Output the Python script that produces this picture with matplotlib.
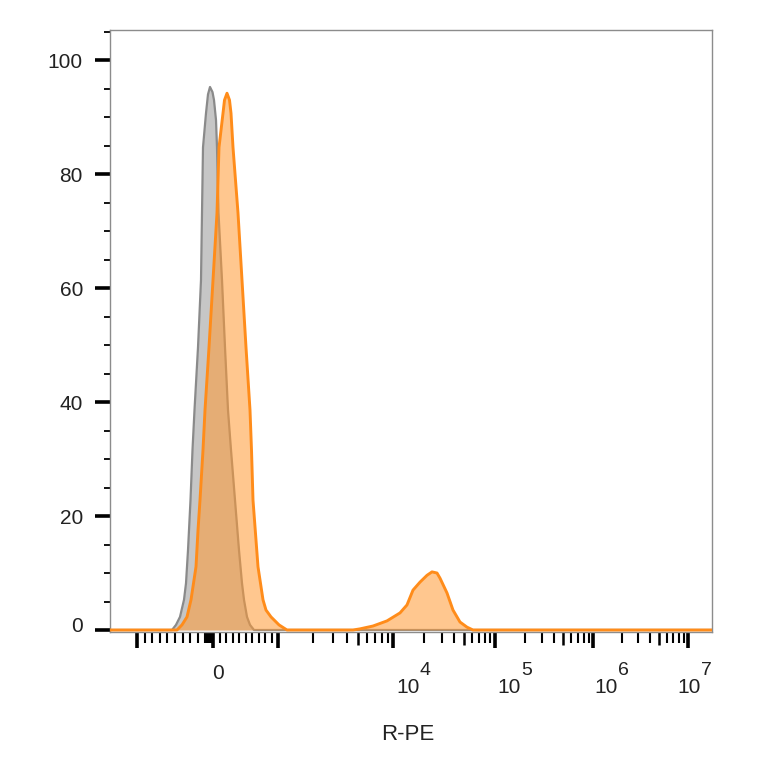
import numpy as np
import matplotlib
matplotlib.use("Agg")
import matplotlib.pyplot as plt
from matplotlib.ticker import MultipleLocator
from matplotlib.transforms import ScaledTranslation, blended_transform_factory

plt.rcParams['font.family'] = ['Liberation Sans', 'DejaVu Sans']

# ---- data (x in display channels, y in % of max) ----
GRAY_X = [0, 56, 62, 66, 70, 74, 76, 78, 80.5, 82.5, 84.5, 88, 91, 92, 93, 96, 98, 100,
          102.5, 104, 106, 107, 108.5, 112, 115, 118, 121, 125, 129, 132, 134, 137,
          140, 144, 150, 602]
GRAY_Y = [0, 0, 0, 0.9, 2.3, 5.3, 8.2, 14.0, 22.8, 31.6, 38.6, 49.6, 61.4, 73.2, 84.7,
          90.7, 94.0, 95.3, 94.4, 93.0, 89.5, 84.7, 73.2, 61.4, 49.6, 38.6, 31.6, 22.8,
          14.0, 8.2, 5.3, 2.3, 0.9, 0, 0, 0]

ORANGE_X = [0, 60, 67, 72, 77, 81, 86, 88, 90, 93, 95, 99, 103, 107, 109, 113, 114.5,
            117, 119.5, 121, 123, 128, 132, 136, 140, 141.5, 143, 148, 153, 156, 161,
            169, 177, 185, 243, 250, 263, 277, 290, 297, 303, 310, 317, 322, 327, 330,
            337, 343, 350, 357, 363, 602]
ORANGE_Y = [0, 0, 0, 0.9, 2.3, 5.3, 11.1, 17.5, 22.8, 31.6, 38.6, 49.6, 61.4, 73.2,
            84.7, 90.7, 93.0, 94.2, 93.0, 90.7, 84.7, 73.2, 61.4, 49.6, 38.6, 31.6,
            22.8, 11.1, 5.3, 3.5, 2.3, 0.9, 0, 0, 0, 0.2, 0.7, 1.6, 3.0, 4.4, 7.0, 8.4,
            9.6, 10.2, 10.0, 9.1, 6.5, 3.5, 1.4, 0.5, 0, 0]

# axis scale definition: decade anchors (value -> channel)
DEC_VALUES = [-1e3, 0, 1e3, 1e4, 1e5, 1e6, 1e7]
DEC_CHANNELS = [27, 103, 168, 283, 385, 483, 578]
X_LABEL_VALUES = [0, 1e4, 1e5, 1e6, 1e7]
X_LABEL_EXP = ['', '4', '5', '6', '7']
X_LABEL_CH = [108, 286, 387, 484, 567]
Y_TICKS = [0, 20, 40, 60, 80, 100]


def to_channel(v):
    if v >= 1e3:
        k = int(np.floor(np.log10(v) + 1e-9))
        i = DEC_VALUES.index(10.0 ** k)
        if i + 1 >= len(DEC_VALUES):
            return DEC_CHANNELS[i]
        return DEC_CHANNELS[i] + np.log10(v / 10.0 ** k) * (DEC_CHANNELS[i + 1] - DEC_CHANNELS[i])
    if v >= 0:
        return DEC_CHANNELS[1] + v / 1e3 * (DEC_CHANNELS[2] - DEC_CHANNELS[1])
    return DEC_CHANNELS[1] + v / 1e3 * (DEC_CHANNELS[1] - DEC_CHANNELS[0])


fig = plt.figure(figsize=(7.64, 7.64), dpi=100)
ax = fig.add_axes([110 / 764, 1 - 632 / 764, 602 / 764, 602 / 764])
ax.set_xlim(0, 602)
ax.set_ylim(-0.35, 105.3)

ax.fill_between(GRAY_X, GRAY_Y, 0, color='#c6c6c6', lw=0, zorder=1)
ax.plot(GRAY_X, GRAY_Y, color='#8a8a8a', lw=1.6, zorder=2,
        solid_joinstyle='round', solid_capstyle='round')
ax.fill_between(ORANGE_X, ORANGE_Y, 0, color='#ff9933', alpha=0.55, lw=0, zorder=3)
ax.plot(ORANGE_X, ORANGE_Y, color='#ff8c1a', lw=2.1, zorder=4,
        solid_joinstyle='round', solid_capstyle='round')

for s in ax.spines.values():
    s.set_color('#8c8c8c')
    s.set_linewidth(1.0)

# y ticks
ax.set_yticks(Y_TICKS)
ax.yaxis.set_minor_locator(MultipleLocator(5))
ax.tick_params(axis='y', which='major', direction='out', length=11, width=2.6,
               color='black', labelsize=15, pad=8.5, labelcolor='#222222')
ax.tick_params(axis='y', which='minor', direction='out', length=4.5, width=1.3,
               color='black')
fig.canvas.draw()
for lbl in ax.get_yticklabels():
    if lbl.get_text() in ('0', '−0'):
        lbl.set_transform(lbl.get_transform() + ScaledTranslation(0, 6 / 100, fig.dpi_scale_trans))

# x ticks
major_ch = [to_channel(v) for v in DEC_VALUES]
minor_vals, mid_vals = [], []
for k in range(3, 7):
    minor_vals += [m * 10.0 ** k for m in (2, 3, 4, 6, 7, 8, 9)]
    mid_vals.append(5 * 10.0 ** k)
minor_vals += [m * 100.0 for m in range(1, 10)]
minor_vals += [-m * 100.0 for m in range(1, 10)]
minor_vals += [-m * 10.0 for m in range(1, 10)]
minor_ch = [to_channel(v) for v in minor_vals]
mid_ch = [to_channel(v) for v in mid_vals]
ax.set_xticks(major_ch)
ax.set_xticks(minor_ch, minor=True)
ax.set_xticklabels([])
ax.tick_params(axis='x', which='major', direction='out', length=11.5, width=2.6, color='black')
ax.tick_params(axis='x', which='minor', direction='out', length=8, width=1.5, color='black')
sec = ax.secondary_xaxis('bottom')
sec.set_xticks(mid_ch)
sec.set_xticklabels([])
sec.tick_params(axis='x', direction='out', length=9.5, width=1.8, color='black')
sec.spines['bottom'].set_visible(False)

trans = blended_transform_factory(ax.transData, ax.transAxes)
for v, e, xc in zip(X_LABEL_VALUES, X_LABEL_EXP, X_LABEL_CH):
    if e == '':
        ax.text(xc, -0.053, '0', transform=trans, ha='center', va='top',
                fontsize=15, color='#222222')
    else:
        ax.text(xc, -0.077, '10', transform=trans, ha='left', va='top',
                fontsize=15, color='#222222')
        ax.text(xc + 24, -0.050, e, transform=trans, ha='left', va='top',
                fontsize=14, color='#222222')

fig.text(408 / 764, 1 - 735 / 764, 'R-PE', ha='center', va='center', fontsize=16,
         color='#222222')

fig.savefig('out.png', dpi=100, facecolor='white')
